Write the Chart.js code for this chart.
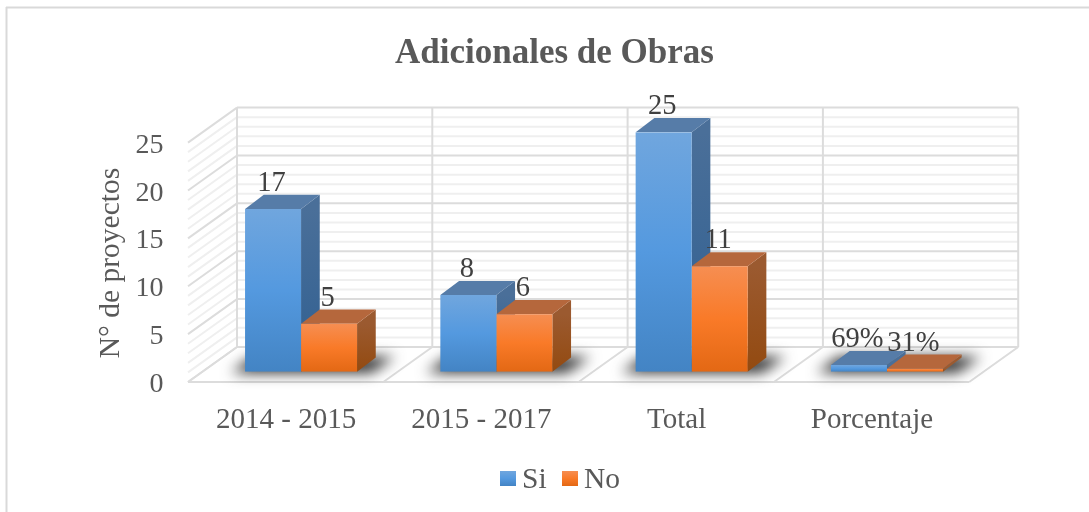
<!DOCTYPE html>
<html><head><meta charset="utf-8">
<style>html,body{margin:0;padding:0;background:#fff}canvas{display:block}</style>
<script src="https://cdn.jsdelivr.net/npm/chart.js@4"></script>
</head><body><canvas id="c" width="1089" height="512"></canvas>
<script>
const categories = ['2014 - 2015', '2015 - 2017', 'Total', 'Porcentaje'];
const siValues = [17, 8, 25, 0.69];
const noValues = [5, 6, 11, 0.31];
const yTickStep = 5;
const yMinorStep = 1;
const yMax = 25;
const chartTitle = 'Adicionales de Obras';
const yTitle = 'N° de proyectos';

const SERIF = '"Liberation Serif", serif';
const TXT = '#595959', LBL = '#404040';
const BACK = {dx: 33.6, dy: -24.7}, FRONT = {dx: -15.4, dy: 10.3};
const BAR = {dx: 18.7, dy: -14.2};
const PAL = {
  Si: {front: ['#70a6de', '#5499df', '#4384c4'], top: '#567ca8', side: ['#4a6f99', '#2f5f91']},
  No: {front: ['#f68e52', '#f97a28', '#e36814'], top: '#b5673c', side: ['#9b5a30', '#934a10']}
};
function grad(ctx, y0, y1, stops) {
  const g = ctx.createLinearGradient(0, y0, 0, y1);
  stops.forEach((c, i) => g.addColorStop(i / (stops.length - 1), c));
  return g;
}
function frontFill(name) {
  return c => {
    const chart = c.chart, y = chart.scales.y;
    if (!y || c.dataIndex === undefined) return PAL[name].front[1];
    const a = y.getPixelForValue(c.raw), b = y.getPixelForValue(0);
    if (!isFinite(a) || !isFinite(b)) return PAL[name].front[1];
    return grad(chart.ctx, a, b, PAL[name].front);
  };
}
function poly(ctx, pts, fill) {
  ctx.beginPath();
  pts.forEach((p, i) => i ? ctx.lineTo(p[0], p[1]) : ctx.moveTo(p[0], p[1]));
  ctx.closePath();
  ctx.fillStyle = fill;
  ctx.fill();
}
function line(ctx, x0, y0, x1, y1, color, w) {
  ctx.beginPath(); ctx.moveTo(x0, y0); ctx.lineTo(x1, y1);
  ctx.strokeStyle = color; ctx.lineWidth = w; ctx.stroke();
}
const scene = {
  id: 'scene',
  afterLayout(chart) { chart.titleBlock.right = 1089; },
  beforeDatasetsDraw(chart) {
    const ctx = chart.ctx, x = chart.scales.x, y = chart.scales.y;
    const catW = x.width / categories.length;
    const bx = x.left + BACK.dx, fx = x.left + FRONT.dx;
    const bw = x.width;
    ctx.save();
    // frame
    line(ctx, 6, 7.5, 1089, 7.5, '#d9d9d9', 2);
    line(ctx, 6.5, 7, 6.5, 512, '#d9d9d9', 2);
    // minor grid
    for (let v = 0; v <= yMax; v += yMinorStep) {
      if (v % yTickStep === 0) continue;
      const p = y.getPixelForValue(v);
      line(ctx, bx, p + BACK.dy, bx + bw, p + BACK.dy, '#efefef', 2);
      line(ctx, bx, p + BACK.dy, fx, p + FRONT.dy, '#efefef', 2);
    }
    // major grid
    y.ticks.forEach(t => {
      const p = y.getPixelForValue(t.value);
      line(ctx, bx, p + BACK.dy, bx + bw, p + BACK.dy, '#dcdcdc', 2);
      line(ctx, bx, p + BACK.dy, fx, p + FRONT.dy, '#dcdcdc', 2);
    });
    const by = y.getPixelForValue(0) + BACK.dy, ty = y.getPixelForValue(yMax) + BACK.dy, fy = y.getPixelForValue(0) + FRONT.dy;
    for (let i = 0; i <= categories.length; i++) {
      line(ctx, bx + i * catW, ty, bx + i * catW, by, '#dcdcdc', 2);
      line(ctx, bx + i * catW, by, fx + i * catW, fy, '#dcdcdc', 2);
    }
    line(ctx, fx, fy, fx + bw, fy, '#dcdcdc', 2);
    // floor shadows
    const m0 = chart.getDatasetMeta(0), m1 = chart.getDatasetMeta(1);
    const y0 = y.getPixelForValue(0);
    ctx.save();
    ctx.filter = 'blur(7px)';
    m0.data.forEach((b, i) => {
      const l = b.x - b.width / 2, r = m1.data[i].x + m1.data[i].width / 2;
      poly(ctx, [[l - 14, y0 + 1], [r + 14, y0 + 1], [r + 38, y0 - 15], [l + 8, y0 - 15]], '#2a2a2a');
    });
    ctx.restore();
    // side and top faces
    chart.data.datasets.forEach((ds, k) => {
      const pal = PAL[ds.label];
      chart.getDatasetMeta(k).data.forEach(b => {
        const l = b.x - b.width / 2, r = b.x + b.width / 2, t = b.y;
        poly(ctx, [[r, t], [r + BAR.dx, t + BAR.dy], [r + BAR.dx, y0 + BAR.dy], [r, y0]],
          grad(ctx, t, y0, pal.side));
        poly(ctx, [[l, t], [r, t], [r + BAR.dx, t + BAR.dy], [l + BAR.dx, t + BAR.dy]], pal.top);
      });
    });
    ctx.restore();
  },
  afterDatasetsDraw(chart) {
    const ctx = chart.ctx;
    ctx.save();
    ctx.textAlign = 'center';
    ctx.textBaseline = 'middle';
    ctx.font = '28.5px ' + SERIF;
    ctx.fillStyle = LBL;
    chart.data.datasets.forEach((ds, k) => {
      chart.getDatasetMeta(k).data.forEach((b, i) => {
        const v = ds.data[i];
        ctx.fillText(v < 1 ? Math.round(v * 100) + '%' : String(v), b.x - 1.5, b.y - 25.5);
      });
    });
    // y axis title
    ctx.save();
    ctx.font = '29.5px ' + SERIF;
    ctx.translate(111, 263);
    ctx.rotate(-Math.PI / 2);
    ctx.fillStyle = TXT;
    ctx.fillText(yTitle, 0, 0);
    ctx.restore();
    // legend
    let lx = 500;
    const ly = 471;
    ctx.textAlign = 'left';
    ctx.font = '29.5px ' + SERIF;
    chart.data.datasets.forEach(ds => {
      ctx.fillStyle = grad(ctx, ly, ly + 15, PAL[ds.label].front);
      ctx.fillRect(lx, ly, 16, 15);
      ctx.fillStyle = TXT;
      ctx.fillText(ds.label, lx + 22, ly + 9);
      lx += 62;
    });
    ctx.restore();
  }
};
new Chart(document.getElementById('c'), {
  type: 'bar',
  data: {
    labels: categories,
    datasets: [
      {label: 'Si', data: siValues, backgroundColor: frontFill('Si'), borderWidth: 0},
      {label: 'No', data: noValues, backgroundColor: frontFill('No'), borderWidth: 0}
    ]
  },
  options: {
    responsive: false,
    animation: false,
    devicePixelRatio: 1,
    layout: {autoPadding: false, padding: {left: 20, right: 104.4, top: 0, bottom: 0}},
    datasets: {bar: {categoryPercentage: 0.5735, barPercentage: 1}},
    plugins: {
      legend: {display: false},
      tooltip: {enabled: false},
      title: {
        display: true, text: chartTitle, color: TXT,
        font: {family: SERIF, size: 35, weight: 'bold', lineHeight: 1.2},
        padding: {top: 33, bottom: 57.3}
      }
    },
    scales: {
      x: {
        grid: {display: false, drawTicks: false}, border: {display: false},
        ticks: {color: TXT, font: {family: SERIF, size: 29}, padding: 31, labelOffset: -15, maxRotation: 0, autoSkip: false},
        afterFit: s => { s.height = 512 - 371.7; }
      },
      y: {
        min: 0, max: yMax,
        grid: {display: false, drawTicks: false}, border: {display: false},
        ticks: {stepSize: yTickStep, color: TXT, font: {family: SERIF, size: 28}, padding: 40, labelOffset: 13},
        afterFit: s => { s.width = 183.4; }
      }
    }
  },
  plugins: [scene]
});
</script></body></html>
